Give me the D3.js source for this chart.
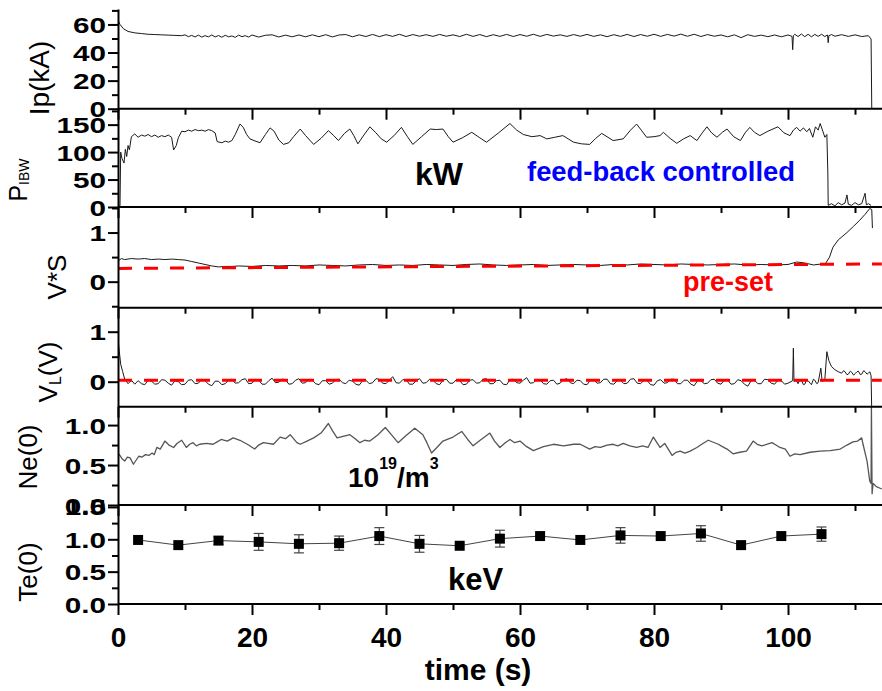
<!DOCTYPE html>
<html><head><meta charset="utf-8">
<script src="https://cdn.jsdelivr.net/npm/d3@7"></script>
<style>
html,body{margin:0;padding:0;background:#fff;}
svg{display:block;font-family:"Liberation Sans",Arial,sans-serif;}
</style></head>
<body><svg id="c" width="882" height="691"></svg>
<script>
// ---------------- DATA ----------------
const timeTicks = [0,20,40,60,80,100];
const timeMinor = [10,30,50,70,90,110];

const ipData = [[0,63],[0.3,60],[0.8,57],[1.5,55],[2.5,54],[3.5,53.5],[4.5,53],[5.5,52.8],[6.5,52.6],[7.5,52.4],[8.5,52.2],[9.5,52],
[10,52.6],[10.5,51.3],[11,52.2],[11.5,51.1],[12,52.4],[12.5,51.0],[13,52.0],[13.5,51.2],[14,52.5],[14.5,51.1],[15,52.1],[15.5,50.9],[16,52.3],[16.5,51.2],[17,51.8],[17.5,50.8],[18,52.4],[18.5,51.3],[19,52.0],[19.5,51.0],[20,52.5],[21,51.0],[22,52.3],[23,52.6],[24,51.1],[25,52.4],[26,51.2],[27,52.5],[28,51.2],[29,52.6],[30,51.3],[31,52.7],[32,51.1],[33,52.5],[34,52.8],[35,51.2],[36,52.6],[37,51.4],[38,52.9],[39,51.3],[40,52.7],[41,51.5],[42,53.0],[43,51.4],[44,52.8],[45,51.6],[46,52.7],[47,51.5],[48,52.9],[49,51.6],[50,52.6],[51,51.4],[52,53.0],[53,51.5],[54,52.8],[55,51.3],[56,52.7],[57,51.5],[58,52.9],[59,51.4],[60,52.8],[61,51.6],[62,53.0],[63,51.5],[64,52.9],[65,51.7],[66,52.6],[67,51.5],[68,52.8],[69,51.6],[70,52.9],[71,51.5],[72,52.6],[73,51.3],[74,52.7],[75,51.5],[76,52.9],[77,51.4],[78,52.8],[79,51.6],[80,53.0],[81,51.5],[82,52.9],[83,51.7],[84,53.1],[85,51.6],[86,53.0],[87,51.4],[88,52.8],[89,51.6],[90,52.5],[91,51.2],[92,52.6],[93,50.6],[94,52.7],[95,51.5],[96,52.4],[97,51.3],[98,52.5],[99,51.2],[100,52.5],[100.6,51.5],[100.7,42],[100.8,52],[101,53.0],[101.5,51.4],[102,53.2],[102.5,51.3],[103,53.0],[103.5,51.2],[104,52.9],[104.5,51.5],[105,53.0],[105.5,51.4],[105.9,52.5],[106,47],[106.1,52],[106.5,52.8],[107,51.6],[108,52.7],[109,51.5],[110,52.6],[111,51.4],[112,52.0],[112.4,49.6],[112.5,0]];

const pibwData = [[0,0],[0.3,2],[0.4,100],[0.6,88],[0.9,80],[1.1,105],[1.3,92],[1.5,112],[1.7,104],[2,128],[2.5,133],[3,127],[3.5,131],[4,129],[4.5,132],[5,128],[5.5,131],[6,127],[6.5,130],[7,128],[7.5,131],[8,127],[8.3,104],[8.7,112],[9,126],[9.5,138],[10,137],[10.5,140],[11,138],[11.5,141],[12,139],[12.5,140],[13,138],[13.5,141],[14,139],[14.5,135],[14.8,119],[15.5,117],[16,120],[16.5,118],[17,121],[17.5,132],[18.2,151],[18.7,145],[19.2,132],[19.7,124],[20.3,121],[21.2,117],[22,132],[22.7,144],[23.3,138],[24,122],[24.7,114],[25.5,117],[26.2,128],[27.2,142],[28,130],[29.2,114],[30.3,125],[31.4,139],[32.2,130],[32.9,121],[33.8,134],[34.6,142],[35.2,130],[35.8,115],[36.7,131],[37.6,146],[38.5,135],[39.3,124],[40.1,118],[41.2,130],[42.3,145],[43.2,128],[44,114],[45.3,128],[46.6,142],[47.5,141],[48.5,142],[49.3,128],[50,118],[51.4,126],[52.8,136],[54,126],[55,118],[56.8,135],[58.5,152],[59.5,140],[60.5,132],[61.8,128],[63,130],[64,124],[65.2,127],[66.4,130],[67.2,124],[68,118],[69.2,115],[70.4,114],[71.3,125],[72.2,134],[73.9,121],[75.4,124],[76.5,140],[77.4,151],[78.1,140],[78.9,127],[80,128],[80.9,130],[81.4,136],[82.4,125],[83.4,116],[84.4,124],[85.4,130],[86.4,121],[87.2,135],[87.9,146],[88.6,135],[89.4,127],[90.2,136],[90.9,142],[91.9,128],[92.9,121],[93.6,135],[94.3,145],[95,136],[95.8,130],[97,138],[98.5,146],[99.4,135],[100.3,130],[100.8,140],[101.3,145],[101.8,138],[102.3,144],[102.8,137],[103.2,143],[103.7,127],[104.1,146],[104.5,140],[104.8,152],[105.2,138],[105.5,127],[105.8,132],[105.95,60],[106,3],[106.5,6],[107,2],[107.5,8],[108,4],[108.5,7],[108.8,22],[109,5],[109.5,3],[110,8],[110.5,4],[111,6],[111.5,25],[111.7,4],[112,6],[112.4,3]];

const vsData = [[0,0.42],[0.5,0.47],[1,0.45],[2,0.47],[3,0.46],[4,0.47],[5,0.45],[6,0.46],[7,0.45],[8,0.46],[9,0.45],[10,0.44],[11,0.41],[12,0.38],[13,0.35],[14,0.32],[15,0.30],[16,0.31],[17,0.31],[18,0.32],[20,0.31],[22,0.33],[24,0.32],[26,0.33],[28,0.32],[30,0.34],[32,0.33],[34,0.32],[36,0.34],[38,0.35],[40,0.33],[42,0.34],[44,0.33],[46,0.35],[48,0.34],[50,0.33],[52,0.35],[54,0.36],[56,0.34],[58,0.33],[60,0.34],[62,0.35],[64,0.33],[66,0.34],[68,0.35],[70,0.34],[72,0.33],[74,0.35],[76,0.34],[78,0.36],[80,0.35],[82,0.34],[84,0.36],[86,0.35],[88,0.34],[90,0.35],[92,0.36],[94,0.34],[96,0.35],[98,0.34],[100,0.35],[101.3,0.40],[102.5,0.38],[103.8,0.34],[105,0.36],[105.6,0.37],[106.2,0.5],[106.7,0.7],[107.5,0.85],[108.8,1.0],[109.8,1.13],[110.7,1.25],[111.5,1.37],[112.2,1.49],[112.5,1.47],[112.6,1.09]];
const vsPreset = [[0,0.27],[114,0.36]];

const vlData = [[0,0.85],[0.2,0.6],[0.4,0.35],[0.7,0.2],[1,0.05],[1.5,-0.04],[2,0.03],[2.5,-0.05],
[3,0.02],[3.5,-0.04],[4,-0.06],[4.5,0.03],[5,0.01],[5.5,-0.05],[6,-0.04],[6.5,0.04],[7,0.03],[7.5,-0.03],[8,-0.07],[8.5,0.02],[9,0.0],[9.5,-0.06],[10,-0.05],[10.5,0.03],[11,0.04],[11.5,-0.04],[12,-0.03],[12.5,0.05],[13,0.02],[13.5,-0.05],[14,-0.08],[14.5,0.01],[15,0.01],[15.5,-0.06],[16,-0.04],[16.5,0.03],[17,0.05],[17.5,-0.03],[18,-0.02],[18.5,0.04],[19,0.06],[19.5,-0.04],[20,-0.03],[20.5,0.05],[21,0.03],[21.5,-0.05],[22,-0.05],[22.5,0.02],[23,0.07],[23.5,-0.02],[24,-0.01],[24.5,0.05],[25,0.04],[25.5,-0.05],[26,-0.04],[26.5,0.03],[27,0.06],[27.5,-0.03],[28,-0.02],[28.5,0.05],[29,0.03],[29.5,-0.04],[30,-0.06],[30.5,0.02],[31,0.02],[31.5,-0.05],[32,-0.03],[32.5,0.04],[33,0.05],[33.5,-0.02],[34,-0.04],[34.5,0.03],[35,0.01],[35.5,-0.05],[36,-0.07],[36.5,0.02],[37,0.03],[37.5,-0.04],[38,-0.02],[38.5,0.06],[39,0.05],[39.5,-0.03],[40,-0.04],[40.5,0.03],[41,0.10],[41.5,-0.02],[42,-0.03],[42.5,0.04],[43,0.04],[43.5,-0.05],[44,-0.05],[44.5,0.02],[45,0.06],[45.5,-0.03],[46,-0.02],[46.5,0.05],[47,0.03],[47.5,-0.04],[48,-0.06],[48.5,0.03],[49,0.05],[49.5,-0.03],[50,-0.03],[50.5,0.04],[51,0.02],[51.5,-0.06],[52,-0.05],[52.5,0.03],[53,0.04],[53.5,-0.03],[54,-0.02],[54.5,0.05],[55,0.06],[55.5,-0.04],[56,-0.04],[56.5,0.02],[57,0.03],[57.5,-0.05],[58,-0.06],[58.5,0.04],[59,0.05],[59.5,-0.02],[60,-0.03],[60.5,0.03],[61,0.08],[61.5,-0.03],[62,-0.02],[62.5,0.04],[63,0.04],[63.5,-0.04],[64,-0.05],[64.5,0.02],[65,0.03],[65.5,-0.05],[66,-0.03],[66.5,0.04],[67,0.06],[67.5,-0.02],[68,-0.04],[68.5,0.03],[69,0.02],[69.5,-0.05],[70,-0.06],[70.5,0.03],[71,0.04],[71.5,-0.03],[72,-0.02],[72.5,0.05],[73,0.05],[73.5,-0.04],[74,-0.05],[74.5,0.02],[75,0.03],[75.5,-0.04],[76,-0.03],[76.5,0.05],[77,0.06],[77.5,-0.03],[78,-0.04],[78.5,0.03],[79,0.02],[79.5,-0.06],[80,-0.07],[80.5,0.02],[81,0.04],[81.5,-0.03],[82,-0.02],[82.5,0.05],[83,0.05],[83.5,-0.04],[84,-0.04],[84.5,0.03],[85,0.03],[85.5,-0.05],[86,-0.08],[86.5,0.02],[87,0.02],[87.5,-0.04],[88,-0.03],[88.5,0.04],[89,0.05],[89.5,-0.03],[90,-0.05],[90.5,0.03],[91,0.03],[91.5,-0.05],[92,-0.04],[92.5,0.04],[93,0.02],[93.5,-0.05],[94,-0.09],[94.5,0.02],[95,0.03],[95.5,-0.04],[96,-0.04],[96.5,0.05],[97,0.04],[97.5,-0.03],[98,-0.05],[98.5,0.03],[99,0.02],[99.5,-0.05],[100,-0.03],
[100.7,0.02],[100.8,0.67],[100.9,0.0],[101.2,0.04],[101.5,-0.04],[101.8,0.05],[102,0.03],[102.3,-0.06],[102.5,-0.05],[102.8,0.04],[103,0.02],[103.3,-0.03],[103.5,-0.06],[103.8,0.05],[104,0.03],[104.3,-0.04],[104.5,-0.02],[104.9,0.27],[105.1,0.0],[105.5,0.05],[105.8,0.6],[106.1,0.42],[106.5,0.3],[107,0.24],[107.5,0.2],[108,0.17],[108.3,0.22],[108.5,0.2],[108.8,0.14],[109,0.15],[109.3,0.21],[109.5,0.19],[109.8,0.13],[110,0.16],[110.3,0.2],[110.5,0.21],[110.8,0.14],[111,0.15],[111.3,0.22],[111.5,0.2],[111.8,0.15],[112,0.17],[112.2,0.2],[112.4,0.12],[112.5,-0.6]];
const vlPreset = [[0,0.03],[114,0.03]];

const neData = [[0,0.64],[0.2,0.63],[0.6,0.58],[1,0.55],[1.4,0.6],[1.8,0.59],[2.3,0.51],[2.7,0.56],[3.1,0.61],[3.6,0.6],[4.1,0.63],[4.6,0.62],[5.1,0.65],[5.4,0.63],[5.8,0.72],[6.3,0.7],[7,0.8],[7.6,0.75],[8.3,0.72],[8.8,0.77],[9.5,0.81],[10.2,0.72],[10.7,0.76],[11.2,0.78],[11.7,0.74],[12.2,0.76],[13.2,0.77],[14.2,0.76],[14.8,0.79],[15.4,0.82],[16.3,0.8],[17.2,0.84],[18.2,0.81],[19.3,0.76],[20.4,0.70],[21,0.75],[21.7,0.78],[22.4,0.77],[23.2,0.76],[24.2,0.85],[25,0.83],[25.7,0.88],[26.7,0.78],[27.2,0.76],[28.2,0.8],[29.2,0.84],[30.3,0.9],[31.4,1.02],[32,0.93],[32.7,0.84],[33.6,0.86],[34.6,0.88],[35.4,0.83],[36.1,0.78],[36.8,0.81],[37.6,0.8],[38.8,0.88],[39.9,0.97],[40.8,0.88],[41.8,0.78],[43,0.87],[44.3,0.96],[45.5,0.88],[46.1,0.78],[46.8,0.65],[47.6,0.72],[48.5,0.8],[50,0.85],[51.3,0.92],[52.2,0.82],[53,0.74],[54.2,0.82],[55.5,0.9],[56.2,0.8],[57,0.72],[57.8,0.78],[58.5,0.82],[59.2,0.78],[60,0.8],[61,0.73],[62,0.68],[63.5,0.73],[65,0.76],[66.5,0.74],[68,0.76],[69,0.76],[70.4,0.70],[71.2,0.73],[72,0.72],[73,0.75],[73.9,0.76],[74.6,0.74],[75.4,0.77],[76.4,0.74],[77.4,0.72],[78.3,0.74],[79.1,0.72],[79.9,0.85],[80.9,0.72],[81.6,0.77],[82.7,0.62],[83.3,0.66],[83.9,0.675],[84.6,0.65],[85.4,0.675],[86.4,0.72],[87.3,0.77],[88.1,0.81],[89.6,0.76],[90.2,0.73],[90.9,0.70],[91.8,0.64],[92.8,0.66],[93.8,0.675],[94.8,0.8],[95.4,0.76],[96.1,0.74],[97.6,0.78],[98.2,0.75],[98.8,0.72],[99.6,0.7],[100.3,0.61],[101,0.64],[101.8,0.63],[103.3,0.66],[104.8,0.675],[106.3,0.68],[107.8,0.70],[108.8,0.75],[109.7,0.79],[110.4,0.8],[111,0.84],[111.2,0.76],[111.8,0.55],[112.2,0.3],[112.4,0.27],[112.45,1.23],[112.55,0.14],[112.7,0.27],[113.2,0.23],[114,0.2]];

const teTime = [3,9,15,21,27,33,39,45,51,57,63,69,75,81,87,93,99,105];
const teVal  = [0.99,0.91,0.98,0.96,0.93,0.94,1.05,0.93,0.90,1.01,1.05,0.99,1.06,1.05,1.09,0.91,1.05,1.08];
const teErr  = [0,0,0.06,0.13,0.14,0.11,0.13,0.13,0,0.13,0,0,0.12,0,0.12,0,0,0.11];

// ---------------- LAYOUT ----------------
const svg = d3.select("#c");
const X0 = 118, XMAX = 114;
const x = d3.scaleLinear().domain([0, XMAX]).range([X0, X0 + XMAX*6.7]);
const W = 882;

const panels = [
  {top:9,   bottom:108.7, domain:[0,71],        major:[0,20,40,60], minor:[10,30,50,70], fmt:d=>d},
  {top:108.7, bottom:207, domain:[0,179],       major:[0,50,100,150], minor:[25,75,125,175], fmt:d=>d},
  {top:207, bottom:307.7, domain:[-0.53,1.52],  major:[0,1], minor:[-0.5,0.5,1.5], fmt:d=>d},
  {top:307.7, bottom:406.7, domain:[-0.5,1.48], major:[0,1], minor:[0.5], fmt:d=>d},
  {top:406.7, bottom:505, domain:[0,1.23],      major:[0,0.5,1.0], minor:[0.25,0.75], fmt:d=>d.toFixed(1)},
  {top:505, bottom:604, domain:[0,1.53],        major:[0,0.5,1.0,1.5], minor:[0.25,0.75,1.25], fmt:d=>d.toFixed(1)}
];
panels.forEach(p => { p.y = d3.scaleLinear().domain(p.domain).range([p.bottom, p.top]); });

const defs = svg.append("defs");
panels.forEach((p,i)=>{
  defs.append("clipPath").attr("id","clip"+i).append("rect")
    .attr("x",X0).attr("y",p.top-1).attr("width",W-X0).attr("height",p.bottom-p.top+1);
});

const lineOf = (p) => d3.line().x(d=>x(d[0])).y(d=>p.y(d[1]));

function trace(i, data, color, width, dash){
  const p = panels[i];
  svg.append("path").datum(data)
    .attr("clip-path","url(#clip"+i+")")
    .attr("d", lineOf(p))
    .attr("fill","none").attr("stroke",color).attr("stroke-width",width)
    .attr("stroke-dasharray", dash||null).attr("stroke-linejoin","round");
}
trace(0, ipData, "#1a1a1a", 1);
trace(1, pibwData, "#1a1a1a", 1);
trace(2, vsData, "#1a1a1a", 1);
trace(2, vsPreset, "#ff0000", 3, "14,12");
trace(3, vlData, "#1a1a1a", 1);
trace(3, vlPreset, "#ff0000", 3, "14,12");
trace(4, neData, "#555", 1.3);

// Te with error bars
{
  const p = panels[5];
  const pts = teTime.map((t,i)=>[t, teVal[i], teErr[i]]);
  svg.append("path").datum(pts).attr("d", lineOf(p))
    .attr("fill","none").attr("stroke","#444").attr("stroke-width",1);
  const eb = svg.append("g").attr("stroke","#444").attr("stroke-width",1.2);
  pts.filter(d=>d[2]>0).forEach(d=>{
    const cx = x(d[0]), y1 = p.y(d[1]-d[2]), y2 = p.y(d[1]+d[2]);
    eb.append("line").attr("x1",cx).attr("x2",cx).attr("y1",y1).attr("y2",y2);
    eb.append("line").attr("x1",cx-5).attr("x2",cx+5).attr("y1",y1).attr("y2",y1);
    eb.append("line").attr("x1",cx-5).attr("x2",cx+5).attr("y1",y2).attr("y2",y2);
  });
  svg.append("g").selectAll("rect").data(pts).join("rect")
    .attr("x",d=>x(d[0])-5).attr("y",d=>p.y(d[1])-5)
    .attr("width",10).attr("height",10).attr("fill","#000");
}

// axes
panels.forEach((p,i)=>{
  const last = i===panels.length-1;
  const gx = svg.append("g").attr("transform",`translate(0,${p.bottom})`);
  gx.call(d3.axisBottom(x).tickValues(timeTicks).tickSize(11).tickSizeOuter(0)
      .tickFormat(last? (d=>d) : ""));
  gx.select(".domain").attr("d",`M${X0},0H${W}`);
  const gxm = svg.append("g").attr("transform",`translate(0,${p.bottom})`);
  gxm.call(d3.axisBottom(x).tickValues(timeMinor).tickSize(6).tickSizeOuter(0).tickFormat(""));
  gxm.select(".domain").remove();
  [gx,gxm].forEach(g=>{
    g.selectAll("line,path").attr("stroke","#000").attr("stroke-width",2);
  });
  if(last){
    gx.selectAll("text").attr("font-size",28).attr("font-weight","bold")
      .attr("fill","#000").attr("y",null).attr("dy",null)
      .attr("transform","translate(0,43)").attr("font-family","Liberation Sans, Arial, sans-serif");
  }

  const gy = svg.append("g").attr("transform",`translate(${X0},0)`);
  gy.call(d3.axisLeft(p.y).tickValues(p.major).tickSize(10).tickSizeOuter(0).tickFormat(p.fmt));
  const gym = svg.append("g").attr("transform",`translate(${X0},0)`);
  gym.call(d3.axisLeft(p.y).tickValues(p.minor).tickSize(6).tickSizeOuter(0).tickFormat(""));
  gym.select(".domain").remove();
  [gy,gym].forEach(g=>g.selectAll("line,path").attr("stroke","#000").attr("stroke-width",2));
  gy.selectAll("text").attr("x",null).attr("dy",null)
    .attr("font-size",22).attr("font-weight","bold").attr("fill","#000")
    .attr("font-family","Liberation Sans, Arial, sans-serif")
    .attr("transform","translate(-12,8) scale(1.35,1)");
});

// y titles
function ytitle(xb, yc, txt, size){
  svg.append("text").attr("transform",`translate(${xb},${yc}) rotate(-90)`)
    .attr("text-anchor","middle").attr("font-size",size).attr("fill","#000").text(txt);
}
ytitle(49, 78, "Ip(kA)", 28);
ytitle(66, 277, "V*S", 26);
ytitle(37, 457, "Ne(0)", 26);
ytitle(37, 572, "Te(0)", 26);
{
  const t = svg.append("text").attr("transform",`translate(27,180) rotate(-90)`)
    .attr("text-anchor","middle").attr("fill","#000");
  t.append("tspan").attr("font-size",25).text("P");
  t.append("tspan").attr("font-size",14).attr("dy",2).text("IBW");
}
{
  const t = svg.append("text").attr("transform",`translate(57,372) rotate(-90)`)
    .attr("text-anchor","middle").attr("fill","#000");
  t.append("tspan").attr("font-size",26).text("V");
  t.append("tspan").attr("font-size",16).attr("dy",4).text("L");
  t.append("tspan").attr("font-size",26).attr("dy",-4).text("(V)");
}

svg.append("text").attr("x",478).attr("y",680).attr("text-anchor","middle")
  .attr("font-size",30).attr("font-weight","bold").text("time (s)");

svg.append("text").attr("x",415).attr("y",185).attr("font-size",32).attr("font-weight","bold").text("kW");
svg.append("text").attr("x",527).attr("y",181).attr("font-size",28).attr("font-weight","bold")
  .attr("fill","#0000ff").attr("textLength",268).attr("lengthAdjust","spacingAndGlyphs").text("feed-back controlled");
svg.append("text").attr("x",683).attr("y",291).attr("font-size",27).attr("font-weight","bold")
  .attr("fill","#ff0000").text("pre-set");
{
  const t = svg.append("text").attr("x",348).attr("y",487).attr("font-weight","bold").attr("fill","#000");
  t.append("tspan").attr("font-size",28).text("10");
  t.append("tspan").attr("font-size",16).attr("dy",-18).text("19");
  t.append("tspan").attr("font-size",28).attr("dy",18).text("/m");
  t.append("tspan").attr("font-size",16).attr("dy",-18).text("3");
}
svg.append("text").attr("x",448).attr("y",590).attr("font-size",31).attr("font-weight","bold").text("keV");
</script></body></html>
